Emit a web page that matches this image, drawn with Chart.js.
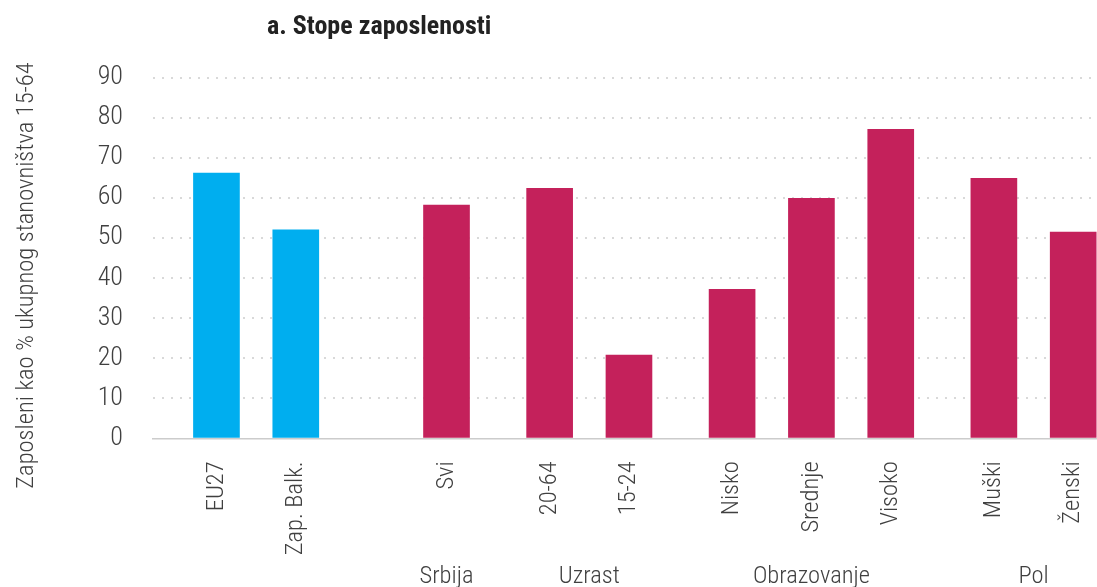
<!DOCTYPE html>
<html>
<head>
<meta charset="utf-8">
<script src="https://cdn.jsdelivr.net/npm/chart.js@4"></script>
<style>
  html, body { margin: 0; padding: 0; background: #ffffff; }
  #wrap { width: 1097px; height: 587px; position: relative; }
</style>
</head>
<body>
<div id="wrap"><canvas id="c"></canvas></div>
<script>
// ---------- data ----------
const categories = ['EU27', 'Zap. Balk.', 'Svi', '20-64', '15-24', 'Nisko', 'Srednje', 'Visoko', 'Muški', 'Ženski'];
const values     = [66.2, 52.0, 58.2, 62.4, 20.8, 37.2, 59.9, 77.1, 64.9, 51.5];
const groups     = ['', '', 'Srbija', 'Uzrast', 'Uzrast', 'Obrazovanje', 'Obrazovanje', 'Obrazovanje', 'Pol', 'Pol'];
const yTicks     = [0, 10, 20, 30, 40, 50, 60, 70, 80, 90];
const chartTitle = 'a. Stope zaposlenosti';
const yTitle     = 'Zaposleni kao % ukupnog stanovništva 15-64';

// ---------- layout (spacer slots on the category axis) ----------
const LEAD = 8;
const STEPS = [10, 19, 13, 10, 13, 10, 10, 13, 10];
const SLOTS = 120;
const FONT = "'Roboto Condensed', 'Liberation Sans Narrow', 'Arial Narrow', sans-serif";
const BLUE = '#00AEEF';
const RED = '#C4215B';
const TXT = '#404040';

const slotIndex = [];
let pos = LEAD;
categories.forEach((c, i) => { if (i > 0) pos += STEPS[i - 1]; slotIndex.push(pos); });

const labels = new Array(SLOTS).fill('');
const data = new Array(SLOTS).fill(null);
const colors = new Array(SLOTS).fill(RED);
slotIndex.forEach((s, i) => {
  labels[s] = categories[i];
  data[s] = values[i];
  colors[s] = groups[i] === '' ? BLUE : RED;
});

const textPlugin = {
  id: 'texts',
  afterDraw(chart) {
    const ctx = chart.ctx;
    const xs = chart.scales.x;
    ctx.save();
    // title
    ctx.fillStyle = '#222222';
    ctx.font = "bold 26px " + FONT;
    ctx.textAlign = 'left';
    ctx.textBaseline = 'alphabetic';
    ctx.fillText(chartTitle, 267, 34);
    // y axis title
    ctx.save();
    ctx.translate(33, 275.5);
    ctx.rotate(-Math.PI / 2);
    ctx.fillStyle = TXT;
    ctx.font = "300 24.5px " + FONT;
    ctx.textAlign = 'center';
    ctx.fillText(yTitle, 0, 0);
    ctx.restore();
    // group labels
    ctx.fillStyle = TXT;
    ctx.font = "300 24.5px " + FONT;
    ctx.textAlign = 'center';
    const seen = [];
    groups.forEach(g => { if (g && !seen.includes(g)) seen.push(g); });
    seen.forEach(g => {
      const px = [];
      groups.forEach((gg, i) => { if (gg === g) px.push(xs.getPixelForValue(slotIndex[i])); });
      const cx = px.reduce((a, b) => a + b, 0) / px.length;
      ctx.fillText(g, cx, 583);
    });
    ctx.restore();
  }
};

new Chart(document.getElementById('c'), {
  type: 'bar',
  data: {
    labels: labels,
    datasets: [{
      data: data,
      backgroundColor: colors,
      borderWidth: 0,
      barThickness: 46
    }]
  },
  options: {
    responsive: true,
    maintainAspectRatio: false,
    animation: false,
    devicePixelRatio: 1,
    layout: { padding: { top: 77.7, left: 0, right: -2, bottom: 0 } },
    plugins: { legend: { display: false }, tooltip: { enabled: false }, title: { display: false } },
    scales: {
      x: {
        type: 'category',
        offset: false,
        grid: { display: false, drawTicks: false },
        border: { display: true, color: '#cccccc', width: 1.5 },
        ticks: {
          autoSkip: false,
          minRotation: 90,
          maxRotation: 90,
          padding: 23,
          color: TXT,
          font: { family: FONT, size: 24.5, weight: '300' }
        },
        afterFit(scale) {
          scale.height = 148.7;
          scale.paddingLeft = 0;
          scale.paddingRight = 0;
        }
      },
      y: {
        min: 0,
        max: 90,
        afterBuildTicks(scale) { scale.ticks = yTicks.map(v => ({ value: v })); },
        grid: {
          drawTicks: false,
          lineWidth: 2,
          color: (c) => (c.tick && c.tick.value === 0) ? 'rgba(0,0,0,0)' : '#d9d9d9'
        },
        border: { display: false, dash: [2, 7] },
        ticks: {
          padding: 30,
          color: TXT,
          font: { family: FONT, size: 26, weight: '300' }
        },
        afterFit(scale) { scale.width = 153; }
      }
    }
  },
  plugins: [textPlugin]
});
</script>
</body>
</html>
